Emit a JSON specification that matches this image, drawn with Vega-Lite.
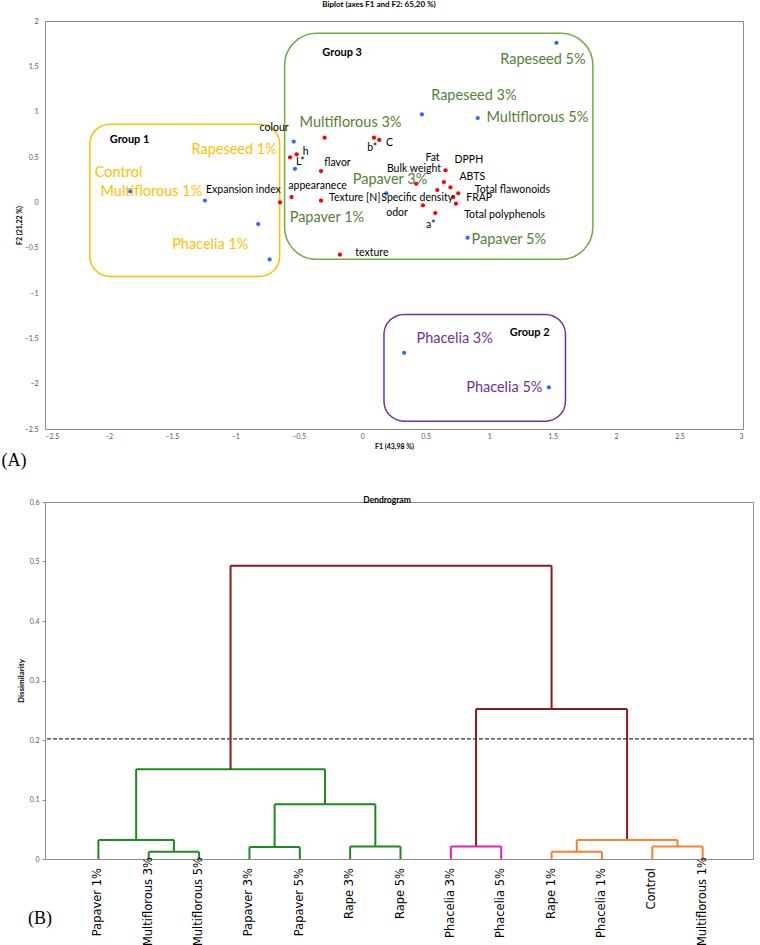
{
  "$schema": "https://vega.github.io/schema/vega-lite/v6.json",
  "padding": {"left": 0, "top": 0, "right": 5, "bottom": 0},
  "spacing": 24,
  "resolve": {"scale": {"color": "independent", "stroke": "independent"}},
  "config": {
    "font": "Lato",
    "view": {"stroke": "#8c8c8c", "strokeWidth": 1},
    "axis": {"grid": false, "labelFont": "Lato", "labelFontSize": 7, "labelColor": "#595959", "titleFont": "Lato", "titleFontWeight": "bold", "titleColor": "#000"}
  },
  "datasets": {
    "blue": [
      {"F1": 1.53, "F2": 1.76}, {"F1": 0.47, "F2": 0.97}, {"F1": 0.91, "F2": 0.93},
      {"F1": 0.19, "F2": 0.10}, {"F1": 0.83, "F2": -0.39}, {"F1": 0.33, "F2": -1.66},
      {"F1": 1.47, "F2": -2.04}, {"F1": -0.82, "F2": -0.24}, {"F1": -0.73, "F2": -0.63},
      {"F1": -1.24, "F2": 0.02}, {"F1": -1.83, "F2": 0.12}, {"F1": -0.54, "F2": 0.67},
      {"F1": -0.53, "F2": 0.37}
    ],
    "red": [
      {"F1": -0.297, "F2": 0.713}, {"F1": -0.517, "F2": 0.530}, {"F1": -0.569, "F2": 0.497},
      {"F1": -0.325, "F2": 0.345}, {"F1": -0.557, "F2": 0.058}, {"F1": -0.325, "F2": 0.018},
      {"F1": -0.648, "F2": 0.0}, {"F1": -0.176, "F2": -0.578}, {"F1": 0.092, "F2": 0.713},
      {"F1": 0.134, "F2": 0.688}, {"F1": 0.656, "F2": 0.353}, {"F1": 0.643, "F2": 0.224},
      {"F1": 0.695, "F2": 0.166}, {"F1": 0.756, "F2": 0.099}, {"F1": 0.717, "F2": 0.058},
      {"F1": 0.738, "F2": -0.015}, {"F1": 0.591, "F2": 0.136}, {"F1": 0.425, "F2": 0.205},
      {"F1": 0.478, "F2": -0.033}, {"F1": 0.575, "F2": -0.118}
    ],
    "varlabels": [
      {"F1": -0.809, "F2": 0.823, "text": "colour"},
      {"F1": -0.470, "F2": 0.555, "text": "h"},
      {"F1": -0.522, "F2": 0.445, "text": "L*"},
      {"F1": -0.299, "F2": 0.437, "text": "flavor"},
      {"F1": -0.583, "F2": 0.180, "text": "appearanece"},
      {"F1": -0.262, "F2": 0.047, "text": "Texture [N]"},
      {"F1": 0.150, "F2": 0.047, "text": "Specific density"},
      {"F1": -1.231, "F2": 0.132, "text": "Expansion index"},
      {"F1": -0.055, "F2": -0.556, "text": "texture"},
      {"F1": 0.039, "F2": 0.596, "text": "b*"},
      {"F1": 0.187, "F2": 0.655, "text": "C"},
      {"F1": 0.498, "F2": 0.492, "text": "Fat"},
      {"F1": 0.727, "F2": 0.467, "text": "DPPH"},
      {"F1": 0.194, "F2": 0.368, "text": "Bulk weight"},
      {"F1": 0.766, "F2": 0.283, "text": "ABTS"},
      {"F1": 0.887, "F2": 0.139, "text": "Total flawonoids"},
      {"F1": 0.819, "F2": 0.051, "text": "FRAP"},
      {"F1": 0.189, "F2": -0.118, "text": "odor"},
      {"F1": 0.803, "F2": -0.143, "text": "Total polyphenols"},
      {"F1": 0.502, "F2": -0.251, "text": "a*"}
    ],
    "samplelabels": [
      {"F1": -1.346, "F2": 0.581, "text": "Rapeseed 1%", "grp": "Group 1"},
      {"F1": -2.108, "F2": 0.327, "text": "Control", "grp": "Group 1"},
      {"F1": -2.063, "F2": 0.114, "text": "Multiflorous 1%", "grp": "Group 1"},
      {"F1": -1.498, "F2": -0.475, "text": "Phacelia 1%", "grp": "Group 1"},
      {"F1": -0.494, "F2": 0.872, "text": "Multiflorous 3%", "grp": "Group 3"},
      {"F1": -0.075, "F2": 0.243, "text": "Papaver 3%", "grp": "Group 3"},
      {"F1": -0.572, "F2": -0.170, "text": "Papaver 1%", "grp": "Group 3"},
      {"F1": 1.087, "F2": 1.567, "text": "Rapeseed 5%", "grp": "Group 3"},
      {"F1": 0.543, "F2": 1.177, "text": "Rapeseed 3%", "grp": "Group 3"},
      {"F1": 0.979, "F2": 0.934, "text": "Multiflorous 5%", "grp": "Group 3"},
      {"F1": 0.861, "F2": -0.419, "text": "Papaver 5%", "grp": "Group 3"},
      {"F1": 0.428, "F2": -1.509, "text": "Phacelia 3%", "grp": "Group 2"},
      {"F1": 0.819, "F2": -2.053, "text": "Phacelia 5%", "grp": "Group 2"}
    ],
    "grouplabels": [
      {"F1": -1.990, "F2": 0.688, "text": "Group 1"},
      {"F1": -0.315, "F2": 1.651, "text": "Group 3"},
      {"F1": 1.163, "F2": -1.446, "text": "Group 2"}
    ],
    "boxes": [
      {"grp": "Group 1", "F1": -2.147, "F1b": -0.651, "F2": 0.861, "F2b": -0.817},
      {"grp": "Group 3", "F1": -0.612, "F1b": 1.817, "F2": 1.865, "F2b": -0.629},
      {"grp": "Group 2", "F1": 0.171, "F1b": 1.601, "F2": -1.236, "F2b": -2.414}
    ],
    "xticks": [{"v": -2}, {"v": -1.5}, {"v": -1}, {"v": -0.5}, {"v": 0.5}, {"v": 1}, {"v": 1.5}, {"v": 2}, {"v": 2.5}],
    "yticks": [{"v": 1.5}, {"v": 1}, {"v": 0.5}, {"v": -0.5}, {"v": -1}, {"v": -1.5}, {"v": -2}],
    "panelA": [{"F1": -2.843, "F2": -2.855, "text": "(A)"}],
    "segments": [
      {"x": 2, "x2": 3, "y": 0.012, "y2": 0.012, "c": "g"},
      {"x": 2, "x2": 2, "y": 0, "y2": 0.012, "c": "g"},
      {"x": 3, "x2": 3, "y": 0, "y2": 0.012, "c": "g"},
      {"x": 1, "x2": 2.5, "y": 0.032, "y2": 0.032, "c": "g"},
      {"x": 1, "x2": 1, "y": 0, "y2": 0.032, "c": "g"},
      {"x": 2.5, "x2": 2.5, "y": 0.012, "y2": 0.032, "c": "g"},
      {"x": 4, "x2": 5, "y": 0.020, "y2": 0.020, "c": "g"},
      {"x": 4, "x2": 4, "y": 0, "y2": 0.020, "c": "g"},
      {"x": 5, "x2": 5, "y": 0, "y2": 0.020, "c": "g"},
      {"x": 6, "x2": 7, "y": 0.021, "y2": 0.021, "c": "g"},
      {"x": 6, "x2": 6, "y": 0, "y2": 0.021, "c": "g"},
      {"x": 7, "x2": 7, "y": 0, "y2": 0.021, "c": "g"},
      {"x": 4.5, "x2": 6.5, "y": 0.092, "y2": 0.092, "c": "g"},
      {"x": 4.5, "x2": 4.5, "y": 0.020, "y2": 0.092, "c": "g"},
      {"x": 6.5, "x2": 6.5, "y": 0.021, "y2": 0.092, "c": "g"},
      {"x": 1.75, "x2": 5.5, "y": 0.151, "y2": 0.151, "c": "g"},
      {"x": 1.75, "x2": 1.75, "y": 0.032, "y2": 0.151, "c": "g"},
      {"x": 5.5, "x2": 5.5, "y": 0.092, "y2": 0.151, "c": "g"},
      {"x": 3.625, "x2": 3.625, "y": 0.151, "y2": 0.493, "c": "r"},
      {"x": 3.625, "x2": 10, "y": 0.493, "y2": 0.493, "c": "r"},
      {"x": 10, "x2": 10, "y": 0.252, "y2": 0.493, "c": "r"},
      {"x": 8.5, "x2": 11.5, "y": 0.252, "y2": 0.252, "c": "r"},
      {"x": 8.5, "x2": 8.5, "y": 0.021, "y2": 0.252, "c": "r"},
      {"x": 11.5, "x2": 11.5, "y": 0.032, "y2": 0.252, "c": "r"},
      {"x": 8, "x2": 9, "y": 0.021, "y2": 0.021, "c": "m"},
      {"x": 8, "x2": 8, "y": 0, "y2": 0.021, "c": "m"},
      {"x": 9, "x2": 9, "y": 0, "y2": 0.021, "c": "m"},
      {"x": 10, "x2": 11, "y": 0.012, "y2": 0.012, "c": "o"},
      {"x": 10, "x2": 10, "y": 0, "y2": 0.012, "c": "o"},
      {"x": 11, "x2": 11, "y": 0, "y2": 0.012, "c": "o"},
      {"x": 12, "x2": 13, "y": 0.021, "y2": 0.021, "c": "o"},
      {"x": 12, "x2": 12, "y": 0, "y2": 0.021, "c": "o"},
      {"x": 13, "x2": 13, "y": 0, "y2": 0.021, "c": "o"},
      {"x": 10.5, "x2": 12.5, "y": 0.032, "y2": 0.032, "c": "o"},
      {"x": 10.5, "x2": 10.5, "y": 0.012, "y2": 0.032, "c": "o"},
      {"x": 12.5, "x2": 12.5, "y": 0.021, "y2": 0.032, "c": "o"}
    ],
    "leaves": [
      {"x": 1, "y": 0, "name": "Papaver 1%"}, {"x": 2, "y": 0, "name": "Multiflorous 3%"}, {"x": 3, "y": 0, "name": "Multiflorous 5%"},
      {"x": 4, "y": 0, "name": "Papaver 3%"}, {"x": 5, "y": 0, "name": "Papaver 5%"}, {"x": 6, "y": 0, "name": "Rape 3%"},
      {"x": 7, "y": 0, "name": "Rape 5%"}, {"x": 8, "y": 0, "name": "Phacelia 3%"}, {"x": 9, "y": 0, "name": "Phacelia 5%"},
      {"x": 10, "y": 0, "name": "Rape 1%"}, {"x": 11, "y": 0, "name": "Phacelia 1%"}, {"x": 12, "y": 0, "name": "Control"},
      {"x": 13, "y": 0, "name": "Multiflorous 1%"}
    ],
    "panelB": [{"x": -0.397, "y": -0.1, "text": "(B)"}],
    "threshold": [{"y": 0.202}]
  },
  "vconcat": [
    {
      "width": 698,
      "height": 408,
      "title": {"text": "Biplot (axes F1 and F2: 65,20 %)", "fontSize": 8, "fontWeight": "bold", "font": "Lato", "offset": 8, "dx": -15},
      "encoding": {
        "x": {"field": "F1", "type": "quantitative", "scale": {"domain": [-2.5, 3], "nice": false, "zero": false},
              "axis": {"values": [-2.5, -2, -1.5, -1, -0.5, 0, 0.5, 1, 1.5, 2, 2.5, 3], "format": "~g", "ticks": false, "domain": false, "labelPadding": 3, "title": "F1 (43,98 %)", "titleFontSize": 7, "titlePadding": 3}},
        "y": {"field": "F2", "type": "quantitative", "scale": {"domain": [-2.5, 2], "nice": false, "zero": false},
              "axis": {"values": [-2.5, -2, -1.5, -1, -0.5, 0, 0.5, 1, 1.5, 2], "format": "~g", "ticks": false, "domain": false, "labelPadding": 7, "title": "F2 (21,22 %)", "titleFontSize": 7, "titlePadding": 2}}
      },
      "layer": [
        {"data": {"name": "xticks"}, "mark": {"type": "rule", "color": "#a6a6a6"}, "encoding": {"x": {"datum": 0}, "y": null}},
        {"data": {"name": "yticks"}, "mark": {"type": "rule", "color": "#a6a6a6"}, "encoding": {"y": {"datum": 0}, "x": null}},
        {"data": {"name": "xticks"}, "mark": {"type": "tick", "orient": "vertical", "color": "#a6a6a6", "size": 6, "thickness": 1}, "encoding": {"x": {"field": "v", "type": "quantitative"}, "y": {"datum": 0}}},
        {"data": {"name": "yticks"}, "mark": {"type": "tick", "orient": "horizontal", "color": "#a6a6a6", "size": 6, "thickness": 1}, "encoding": {"y": {"field": "v", "type": "quantitative"}, "x": {"datum": 0}}},
        {"data": {"name": "boxes"}, "transform": [{"filter": "datum.grp === 'Group 3'"}],
         "mark": {"type": "rect", "fill": null, "fillOpacity": 0, "strokeWidth": 1.5, "cornerRadius": 32},
         "encoding": {"x2": {"field": "F1b"}, "y2": {"field": "F2b"},
                      "stroke": {"field": "grp", "type": "nominal", "scale": {"domain": ["Group 1", "Group 2", "Group 3"], "range": ["#FFC000", "#7030A0", "#70AD47"]}, "legend": null}}},
        {"data": {"name": "boxes"}, "transform": [{"filter": "datum.grp !== 'Group 3'"}],
         "mark": {"type": "rect", "fill": null, "fillOpacity": 0, "strokeWidth": 1.5, "cornerRadius": 20},
         "encoding": {"x2": {"field": "F1b"}, "y2": {"field": "F2b"},
                      "stroke": {"field": "grp", "type": "nominal", "scale": {"domain": ["Group 1", "Group 2", "Group 3"], "range": ["#FFC000", "#7030A0", "#70AD47"]}, "legend": null}}},
        {"data": {"name": "red"}, "mark": {"type": "circle", "color": "#ff0000", "size": 18, "opacity": 1}},
        {"data": {"name": "blue"}, "mark": {"type": "circle", "color": "#2f6bff", "size": 18, "opacity": 1}},
        {"data": {"name": "varlabels"}, "mark": {"type": "text", "align": "left", "baseline": "middle", "font": "Lato", "fontSize": 10.5, "color": "#000"},
         "encoding": {"text": {"field": "text"}}},
        {"data": {"name": "samplelabels"}, "mark": {"type": "text", "align": "left", "baseline": "middle", "font": "Lato", "fontSize": 14.5},
         "encoding": {"text": {"field": "text"},
                      "color": {"field": "grp", "type": "nominal", "scale": {"domain": ["Group 1", "Group 2", "Group 3"], "range": ["#FFC000", "#7030A0", "#538135"]}, "legend": null}}},
        {"data": {"name": "grouplabels"}, "mark": {"type": "text", "align": "left", "baseline": "middle", "font": "Lato", "fontSize": 11, "fontWeight": "bold", "color": "#000"},
         "encoding": {"text": {"field": "text"}}},
        {"data": {"name": "panelA"}, "mark": {"type": "text", "align": "left", "baseline": "middle", "font": "Liberation Serif", "fontSize": 18, "color": "#000"},
         "encoding": {"text": {"field": "text"}}}
      ]
    },
    {
      "width": 708,
      "height": 357,
      "title": {"text": "Dendrogram", "fontSize": 8.5, "fontWeight": "bold", "font": "Lato", "offset": -6, "dx": -12},
      "encoding": {
        "x": {"field": "x", "type": "quantitative", "scale": {"domain": [-0.06, 14], "nice": false, "zero": false}, "axis": null},
        "y": {"field": "y", "type": "quantitative", "scale": {"domain": [0, 0.6], "nice": false},
              "axis": {"values": [0, 0.1, 0.2, 0.3, 0.4, 0.5, 0.6], "format": "~g", "domain": false, "tickSize": 3, "tickColor": "#8c8c8c", "labelPadding": 3, "title": "Dissimilarity", "titleFontSize": 8, "titlePadding": 4}}
      },
      "layer": [
        {"data": {"name": "threshold"}, "mark": {"type": "rule", "color": "#333333", "strokeDash": [4, 2], "strokeWidth": 1.2}, "encoding": {"x": null}},
        {"data": {"name": "segments"}, "mark": {"type": "rule", "strokeWidth": 2},
         "encoding": {"x2": {"field": "x2"}, "y2": {"field": "y2"},
                      "color": {"field": "c", "type": "nominal", "scale": {"domain": ["g", "r", "m", "o"], "range": ["#1e8a1e", "#8b1a1a", "#e020b0", "#ff7f2a"]}, "legend": null}}},
        {"data": {"name": "leaves"}, "transform": [{"filter": "length(datum.name) <= 12"}],
         "mark": {"type": "text", "angle": 270, "align": "right", "baseline": "middle", "dx": -9, "font": "DejaVu Sans", "fontSize": 11.5, "color": "#000"},
         "encoding": {"text": {"field": "name", "type": "nominal"}}},
        {"data": {"name": "leaves"}, "transform": [{"filter": "length(datum.name) > 12"}],
         "mark": {"type": "text", "angle": 270, "align": "right", "baseline": "middle", "dx": 2, "font": "DejaVu Sans", "fontSize": 11.5, "color": "#000"},
         "encoding": {"text": {"field": "name", "type": "nominal"}}},
        {"data": {"name": "panelB"}, "mark": {"type": "text", "align": "left", "baseline": "middle", "font": "Liberation Serif", "fontSize": 18, "color": "#000"},
         "encoding": {"text": {"field": "text"}}}
      ]
    }
  ]
}
